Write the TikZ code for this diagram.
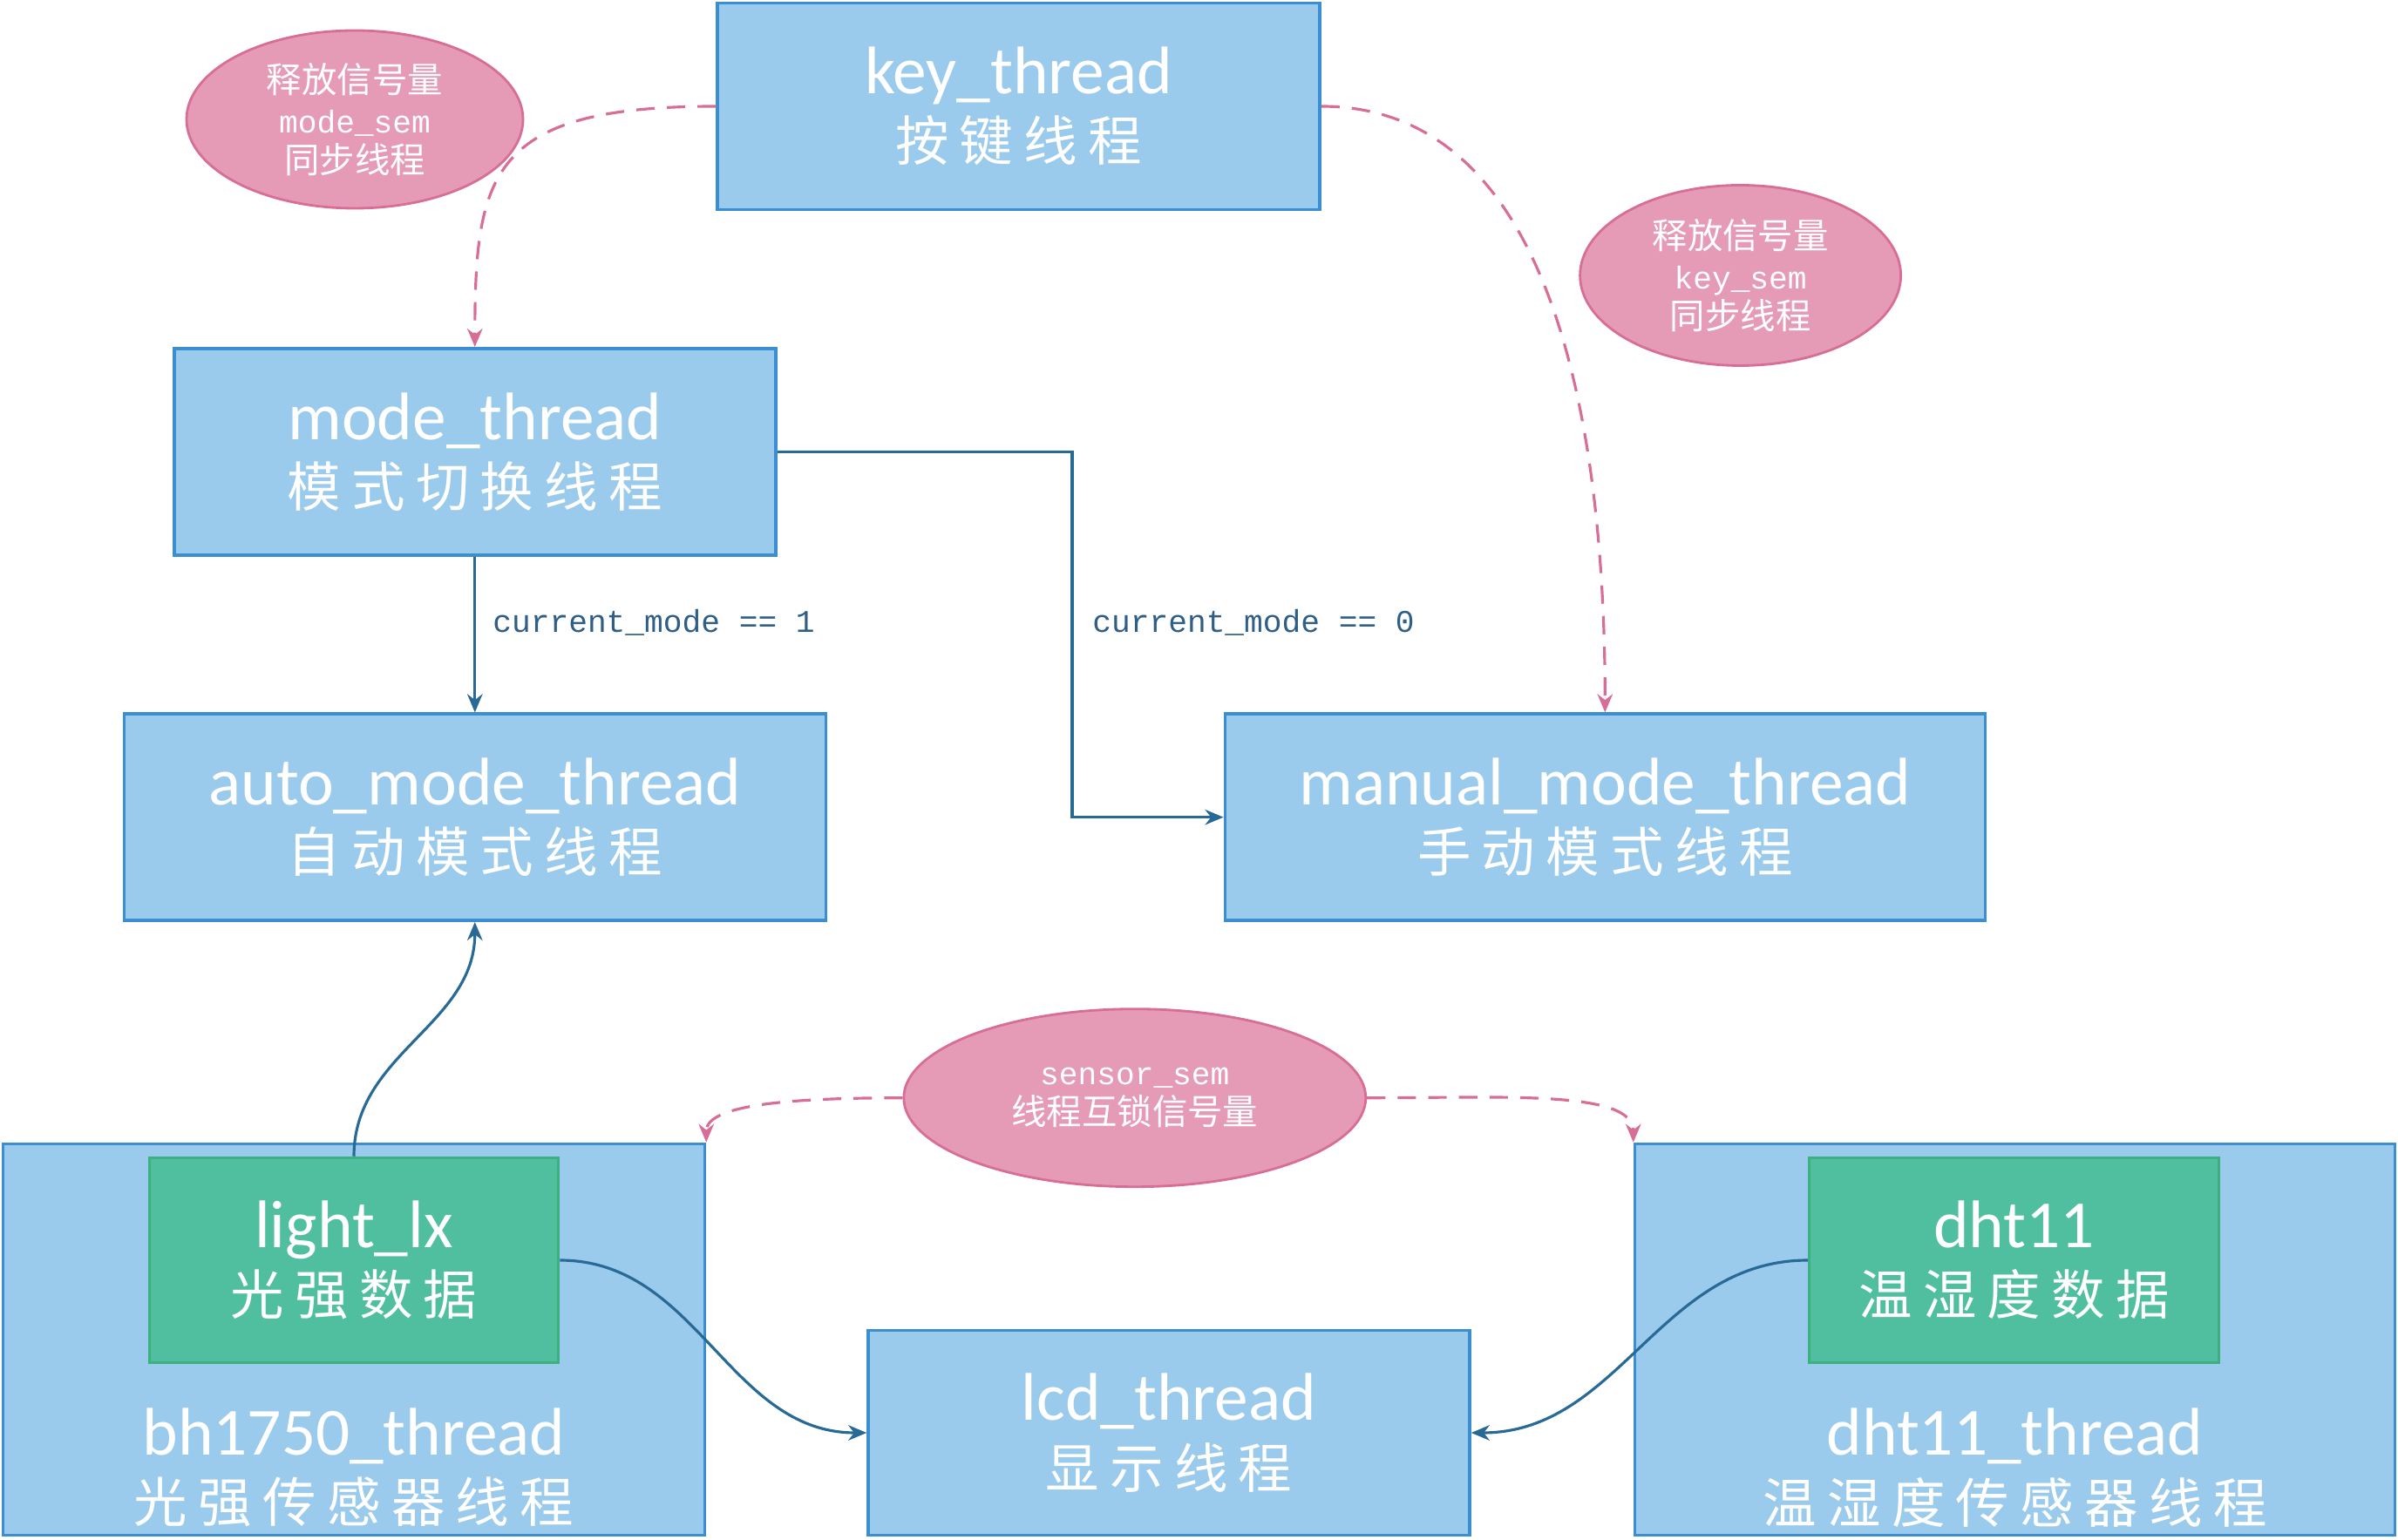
\documentclass[tikz,border=0pt]{standalone}
\usepackage{fontspec}
\setmainfont{Carlito}
\setmonofont{Liberation Mono}
\newfontfamily\cjkfont[LetterSpace=20]{Noto Sans CJK SC}
\newfontfamily\cjksmall{Noto Sans CJK SC}
\usepackage{tikz}
\usetikzlibrary{shapes,arrows.meta}

\definecolor{boxblue}{HTML}{9BCBEC}
\definecolor{boxedge}{HTML}{3B8FD0}
\definecolor{datagreen}{HTML}{4FBFA0}
\definecolor{dataedge}{HTML}{3DAF80}
\definecolor{sempink}{HTML}{E59BB5}
\definecolor{semedge}{HTML}{D86D97}
\definecolor{flowblue}{HTML}{286996}
\definecolor{condblue}{HTML}{2F5E86}

\newcommand{\thr}[2]{{\fontsize{22}{22}\selectfont #1}\\{\cjkfont\fontsize{17.5}{22}\selectfont #2}}
\newcommand{\semcn}[1]{{\cjksmall\fontsize{11.5}{13}\selectfont #1}}
\newcommand{\semtt}[1]{{\ttfamily\fontsize{10.3}{13}\selectfont #1}}

\begin{document}
\begin{tikzpicture}
			\tikzstyle{threadbox}=[draw=boxedge, fill=boxblue, line width=1pt, text=white, align=center, font=\fontsize{22}{22}\selectfont, inner sep=0pt]
			\tikzstyle{databox}=[threadbox, draw=dataedge, fill=datagreen]
			\tikzstyle{sem}=[ellipse, draw=semedge, fill=sempink, line width=0.8pt, text=white, align=center, inner sep=0pt, font=\fontsize{11.5}{13}\selectfont]
			\tikzstyle{semline}=[semedge, line width=0.9pt, dash pattern=on 6pt off 4pt, -{Stealth[length=6pt,width=5pt]}]
			\tikzstyle{flowline}=[flowblue, line width=0.9pt, -{Stealth[length=6pt,width=5pt]}]
			\tikzstyle{condlabel}=[text=condblue, anchor=west, font=\ttfamily\fontsize{10.3}{12}\selectfont]
			\tikzstyle{outertext}=[anchor=south, inner sep=3pt, text=white, align=center, font=\fontsize{22}{22}\selectfont]
			
			\useasboundingbox (0,0) rectangle (27.51,17.66);
			
			% threads
			\node[threadbox, minimum width=6.91cm, minimum height=2.37cm] (key) at (11.685,16.44) {\thr{key\_thread}{按键线程}};
			\node[threadbox, minimum width=6.90cm, minimum height=2.37cm] (mode) at (5.448,12.476) {\thr{mode\_thread}{模式切换线程}};
			\node[threadbox, minimum width=8.05cm, minimum height=2.37cm] (auto) at (5.448,8.283) {\thr{auto\_mode\_thread}{自动模式线程}};
			\node[threadbox, minimum width=8.72cm, minimum height=2.37cm] (manual) at (18.413,8.283) {\thr{manual\_mode\_thread}{手动模式线程}};
			\node[threadbox, minimum width=8.05cm, minimum height=4.49cm, label={[outertext]south:\thr{bh1750\_thread}{光强传感器线程}}] (bh1750) at (4.06,2.29) {};
			\node[databox, minimum width=4.69cm, minimum height=2.35cm] (light) at (4.06,3.20) {\thr{light\_lx}{光强数据}};
			\node[threadbox, minimum width=6.90cm, minimum height=2.35cm] (lcd) at (13.41,1.22) {\thr{lcd\_thread}{显示线程}};
			\node[threadbox, minimum width=8.72cm, minimum height=4.49cm, label={[outertext]south:\thr{dht11\_thread}{温湿度传感器线程}}] (dht) at (23.115,2.29) {};
			\node[databox, minimum width=4.70cm, minimum height=2.35cm] (dhtdata) at (23.107,3.20) {\thr{dht11}{温湿度数据}};
			
			% semaphores
			\node[sem, minimum width=3.86cm, minimum height=2.04cm] (modesem) at (4.07,16.29) {\semcn{释放信号量}\\\semtt{mode\_sem}\\\semcn{同步线程}};
			\node[sem, minimum width=3.68cm, minimum height=2.07cm] (keysem) at (19.966,14.50) {\semcn{释放信号量}\\\semtt{key\_sem}\\\semcn{同步线程}};
			\node[sem, minimum width=5.30cm, minimum height=2.04cm] (sensorsem) at (13.018,5.063) {\semtt{sensor\_sem}\\\semcn{线程互锁信号量}};
			
			\node[condlabel] (cond1) at (5.53,10.52) {current\_mode == 1};
			\node[condlabel] (cond0) at (12.41,10.52) {current\_mode == 0};
			
			% connectors
			\draw[semline] (key.west) to[out=180,in=90,out looseness=1.7,in looseness=1.3] (mode.north);
			\draw[semline] (key.east) to[out=0,in=90,out looseness=0.92,in looseness=1.0] (manual.north);
			\draw[flowline] (mode.south) -- (auto.north);
			\draw[flowline] (mode.east) -- ++(3.385,0) |- (manual.west);
			\draw[flowline] (light.north) to[out=90,in=-90] (auto.south);
			\draw[flowline] (light.east) to[out=0,in=180] (lcd.west);
			\draw[flowline] (dhtdata.west) to[out=180,in=0] (lcd.east);
			\draw[semline] (sensorsem.west) to[out=180,in=90,out looseness=1.28,in looseness=0.5] (bh1750.north east);
			\draw[semline] (sensorsem.east) to[out=0,in=90,out looseness=1.28,in looseness=0.5] (dht.north west);
			
\end{tikzpicture}
\end{document}
